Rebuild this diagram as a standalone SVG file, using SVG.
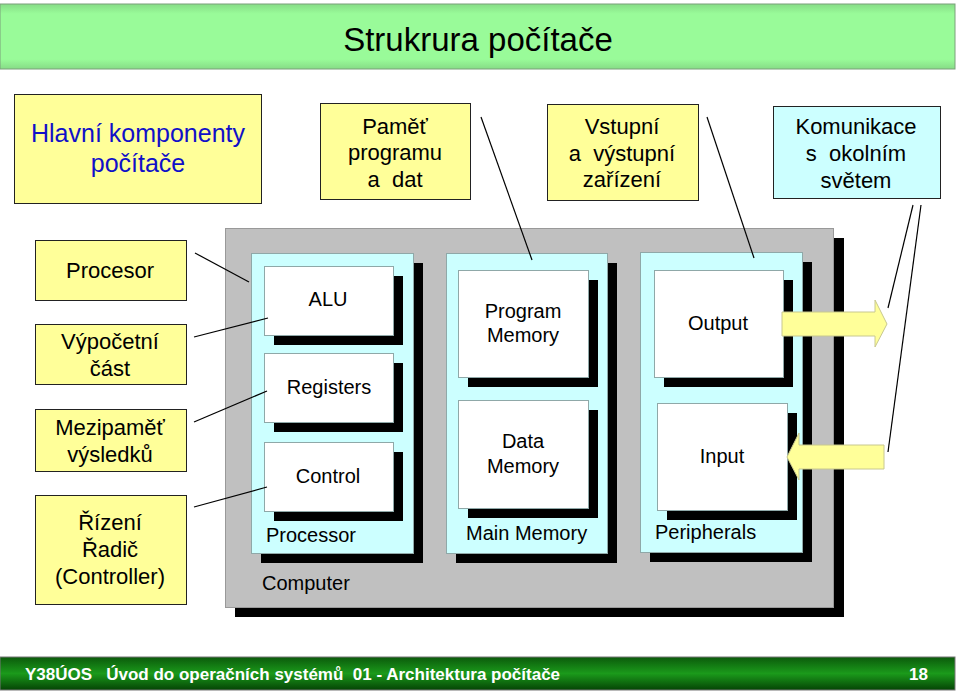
<svg xmlns="http://www.w3.org/2000/svg" width="960" height="693" viewBox="0 0 960 693">
<defs>
<linearGradient id="gTitle" x1="0" y1="0" x2="0" y2="1">
<stop offset="0" stop-color="#86dc86"/>
<stop offset="0.15" stop-color="#99fb99"/>
<stop offset="0.85" stop-color="#99fb99"/>
<stop offset="1" stop-color="#86dc86"/>
</linearGradient>
<linearGradient id="gFoot" x1="0" y1="0" x2="0" y2="1">
<stop offset="0" stop-color="#0b5a0b"/>
<stop offset="0.5" stop-color="#1b9a1b"/>
<stop offset="1" stop-color="#054405"/>
</linearGradient>
</defs>
<style>
text{font-family:"Liberation Sans",Arial,sans-serif;fill:#000;white-space:pre}
.box{fill:#ffff99;stroke:#222;stroke-width:1}
.cyan{fill:#ccffff;stroke:#222;stroke-width:1}
.bt{font-size:22px;text-anchor:middle}
.it{font-size:20px;text-anchor:middle}
.lt{font-size:20px}
.sh{fill:#000}
.panel{fill:#ccffff;stroke:#8fa8a8;stroke-width:1}
.wbox{fill:#fff;stroke:#8fa8a8;stroke-width:1}
.arrow{fill:#ffff99;stroke:#c8c890;stroke-width:1}
.conn line{stroke:#000;stroke-width:1.2}
.ft{font-size:17px;font-weight:bold;fill:#fff}
</style>
<rect width="960" height="693" fill="#fff"/>
<g id="title">
<rect x="0" y="4" width="955" height="65" fill="url(#gTitle)" stroke="#7aa07a" stroke-width="1"/>
<text x="478" y="51" font-size="33" text-anchor="middle">Strukrura počítače</text>
</g>
<g id="n-hlavni"><rect class="box" x="14.5" y="94.5" width="247" height="109"/>
<text class="bt" x="138" y="142" style="font-size:25px;fill:#1010c8">Hlavní komponenty</text>
<text class="bt" x="138" y="172" style="font-size:25px;fill:#1010c8">počítače</text></g>
<g id="n-pamet"><rect class="box" x="320.5" y="103.5" width="150" height="96"/>
<text class="bt" x="395" y="134">Paměť</text><text class="bt" x="395" y="160">programu</text><text class="bt" x="395" y="187">a  dat</text></g>
<g id="n-vstupni"><rect class="box" x="547.5" y="104.5" width="151" height="96"/>
<text class="bt" x="622" y="134">Vstupní</text><text class="bt" x="622" y="161">a  výstupní</text><text class="bt" x="622" y="187">zařízení</text></g>
<g id="n-komunikace"><rect class="cyan" x="773.5" y="106.5" width="167" height="92"/>
<text class="bt" x="856" y="134">Komunikace</text><text class="bt" x="856" y="161">s  okolním</text><text class="bt" x="856" y="188">světem</text></g>
<g id="n-procesor"><rect class="box" x="35.5" y="240.5" width="151" height="60"/>
<text class="bt" x="110" y="278">Procesor</text></g>
<g id="n-vypocetni"><rect class="box" x="35.5" y="324.5" width="151" height="60"/>
<text class="bt" x="110" y="349">Výpočetní</text><text class="bt" x="110" y="376">část</text></g>
<g id="n-mezipamet"><rect class="box" x="35.5" y="409.5" width="151" height="62"/>
<text class="bt" x="110" y="435">Mezipaměť</text><text class="bt" x="110" y="462">výsledků</text></g>
<g id="n-rizeni"><rect class="box" x="35.5" y="495.5" width="151" height="109"/>
<text class="bt" x="110" y="530">Řízení</text><text class="bt" x="110" y="557">Řadič</text><text class="bt" x="110" y="584">(Controller)</text></g>
<g id="n-computer">
<rect class="sh" x="235" y="238" width="609" height="379"/>
<rect x="225.5" y="228.5" width="608" height="379" fill="#c0c0c0" stroke="#999" stroke-width="1"/>
<text class="lt" x="262" y="590">Computer</text>
</g>
<g id="n-processor">
<rect class="sh" x="261" y="263" width="162" height="300"/>
<rect class="panel" x="251.5" y="253.5" width="162" height="300"/>
<text class="lt" x="266" y="542">Processor</text>
</g>
<g id="n-alu"><rect class="sh" x="274" y="276" width="129" height="69"/><rect class="wbox" x="264.5" y="266.5" width="129" height="69"/><text class="it" x="328" y="306">ALU</text></g>
<g id="n-registers"><rect class="sh" x="274" y="363" width="129" height="69"/><rect class="wbox" x="264.5" y="353.5" width="129" height="69"/><text class="it" x="329" y="394">Registers</text></g>
<g id="n-control"><rect class="sh" x="274" y="452" width="129" height="69"/><rect class="wbox" x="264.5" y="442.5" width="129" height="69"/><text class="it" x="328" y="483">Control</text></g>
<g id="n-mainmemory">
<rect class="sh" x="456" y="263" width="161" height="300"/>
<rect class="panel" x="446.5" y="253.5" width="161" height="300"/>
<text class="lt" x="466" y="540">Main Memory</text>
</g>
<g id="n-progmem"><rect class="sh" x="468" y="280" width="130" height="107"/><rect class="wbox" x="458.5" y="270.5" width="130" height="107"/><text class="it" x="523" y="318">Program</text><text class="it" x="523" y="342">Memory</text></g>
<g id="n-datamem"><rect class="sh" x="468" y="410" width="130" height="108"/><rect class="wbox" x="458.5" y="400.5" width="130" height="108"/><text class="it" x="523" y="448">Data</text><text class="it" x="523" y="473">Memory</text></g>
<g id="n-peripherals">
<rect class="sh" x="650" y="262" width="162" height="300"/>
<rect class="panel" x="640.5" y="252.5" width="162" height="300"/>
<text class="lt" x="655" y="539">Peripherals</text>
</g>
<g id="n-output"><rect class="sh" x="664" y="280" width="129" height="107"/><rect class="wbox" x="654.5" y="270.5" width="129" height="107"/><text class="it" x="718" y="330">Output</text></g>
<g id="n-input"><rect class="sh" x="667" y="413" width="130" height="107"/><rect class="wbox" x="657.5" y="403.5" width="130" height="107"/><text class="it" x="722" y="463">Input</text></g>
<g id="connectors" class="conn">
<polygon class="arrow" points="782,312 875,312 875,300 887,324 875,347 875,336 782,336"/>
<polygon class="arrow" points="884,445 799,445 799,433 787,457 799,480 799,469 884,469"/>
<line x1="195" y1="253" x2="249" y2="282"/>
<line x1="194" y1="337" x2="268" y2="318"/>
<line x1="194" y1="422" x2="267" y2="391"/>
<line x1="194" y1="507" x2="267" y2="487"/>
<line x1="481" y1="117" x2="532" y2="260"/>
<line x1="707" y1="117" x2="754" y2="258"/>
<line x1="913" y1="205" x2="888" y2="308"/>
<line x1="921" y1="205" x2="888" y2="452"/>
</g>
<g id="footer">
<rect x="0" y="657" width="955" height="33" fill="url(#gFoot)" stroke="#777" stroke-width="1"/>
<text class="ft" x="25" y="680">Y38ÚOS   Úvod do operačních systémů  01 - Architektura počítače</text>
<text class="ft" x="928" y="680" text-anchor="end">18</text>
</g>
</svg>
